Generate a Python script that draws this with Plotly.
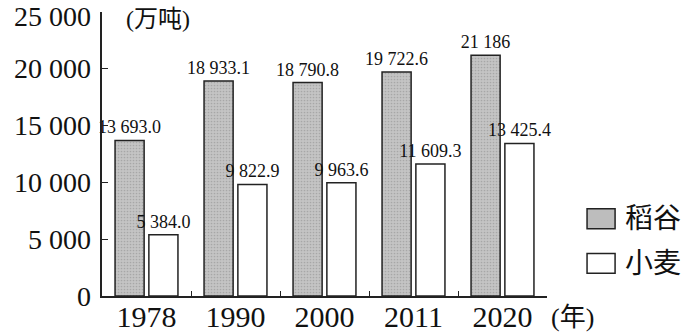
import plotly.graph_objects as go

years = ["1978", "1990", "2000", "2011", "2020"]
rice = [13693.0, 18933.1, 18790.8, 19722.6, 21186]
wheat = [5384.0, 9822.9, 9963.6, 11609.3, 13425.4]
rice_labels = ["13 693.0", "18 933.1", "18 790.8", "19 722.6", "21 186"]
wheat_labels = ["5 384.0", "9 822.9", "9 963.6", "11 609.3", "13 425.4"]
y_ticks = [0, 5000, 10000, 15000, 20000, 25000]
y_ticktext = ["0", "5 000", "10 000", "15 000", "20 000", "25 000"]
series_names = ["稻谷", "小麦"]

SERIF = "Liberation Serif, serif"
FONT = "Liberation Serif, Noto Sans CJK SC, serif"

fig = go.Figure()
fig.add_trace(go.Bar(
    x=years, y=rice, name=series_names[0],
    text=rice_labels, textposition="outside", cliponaxis=False, constraintext="none",
    textfont=dict(family=FONT, size=18, color="#111"),
    marker=dict(color="#bdbdbd", line=dict(color="#222", width=1.5),
                pattern=dict(shape=".", fgcolor="#8a8a8a", bgcolor="#c4c4c4", size=3, solidity=0.25)),
))
fig.add_trace(go.Bar(
    x=years, y=wheat, name=series_names[1],
    text=wheat_labels, textposition="outside", cliponaxis=False, constraintext="none",
    textfont=dict(family=FONT, size=18, color="#111"),
    marker=dict(color="white", line=dict(color="#222", width=1.5)),
))

fig.update_layout(
    width=693, height=332,
    margin=dict(l=102, r=146, t=12, b=36, autoexpand=False),
    paper_bgcolor="white", plot_bgcolor="white",
    barmode="group", bargap=0.24, bargroupgap=0.14,
    showlegend=False,
    font=dict(family=FONT, color="#111"),
)
fig.update_xaxes(
    type="category", showline=True, linecolor="#222", linewidth=1.5,
    ticks="inside", tickson="boundaries", ticklen=5, tickcolor="#222",
    automargin=False, ticklabelstandoff=-7,
    tickfont=dict(family=SERIF, size=30, color="#111"),
    showgrid=False, zeroline=False,
)
fig.update_yaxes(
    range=[0, 25000], tickmode="array", tickvals=y_ticks,
    showticklabels=False,
    showline=True, linecolor="#222", linewidth=1.5,
    ticks="inside", ticklen=6, tickcolor="#222",
    automargin=False,
    showgrid=False, zeroline=False,
)

# y tick labels as serif text at the tick values
for v, t in zip(y_ticks, y_ticktext):
    fig.add_annotation(text=t, xref="paper", yref="y", x=0, y=v,
                       xanchor="right", yanchor="middle", xshift=-9,
                       yshift=(-4 if v == y_ticks[-1] else 0),
                       showarrow=False,
                       font=dict(family=SERIF, size=28, color="#111"))

# unit labels
fig.add_annotation(text="(万吨)", xref="paper", yref="paper", x=0.05, y=0.975,
                   xanchor="left", yanchor="middle", showarrow=False,
                   font=dict(family=FONT, size=24, color="#111"))
fig.add_annotation(text="(年)", xref="paper", yref="paper", x=1.005, y=-0.075,
                   xanchor="left", yanchor="middle", showarrow=False,
                   font=dict(family=FONT, size=26, color="#111"))

# legend drawn manually
fig.add_shape(type="rect", xref="paper", yref="paper", x0=1.09, x1=1.153, y0=0.237, y1=0.307,
              fillcolor="#bdbdbd", line=dict(color="#222", width=1.5))
fig.add_shape(type="rect", xref="paper", yref="paper", x0=1.09, x1=1.153, y0=0.080, y1=0.150,
              fillcolor="white", line=dict(color="#222", width=1.5))
fig.add_annotation(text=series_names[0], xref="paper", yref="paper", x=1.17, y=0.272,
                   xanchor="left", yanchor="middle", showarrow=False,
                   font=dict(family=FONT, size=28, color="#111"))
fig.add_annotation(text=series_names[1], xref="paper", yref="paper", x=1.17, y=0.115,
                   xanchor="left", yanchor="middle", showarrow=False,
                   font=dict(family=FONT, size=28, color="#111"))

fig.write_html("out.html")
